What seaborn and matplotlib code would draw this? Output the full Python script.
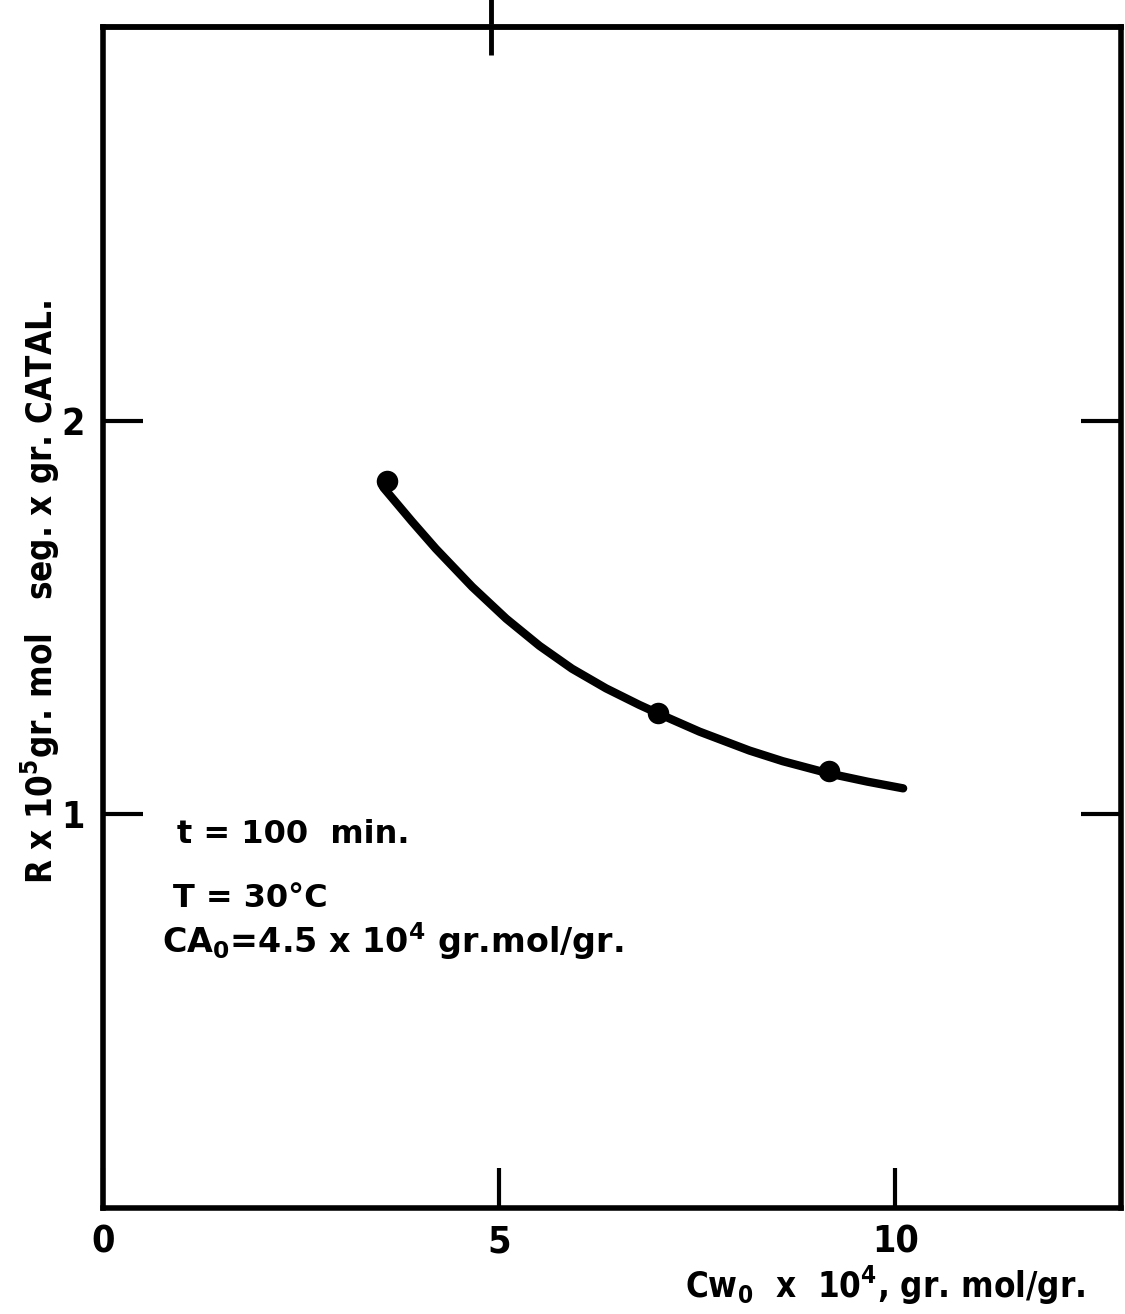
import matplotlib
matplotlib.use("Agg")
import matplotlib.pyplot as plt
import seaborn as sns
import pandas as pd

# measured points
cw0 = [3.58, 7.01, 9.16]
rate = [1.847, 1.257, 1.109]

# hand-drawn fitted curve
curve_x = [3.54, 3.90, 4.20, 4.66, 5.09, 5.51, 5.92, 6.35, 6.77, 7.01,
           7.53, 8.16, 8.58, 9.16, 9.65, 10.10]
curve_y = [1.830, 1.744, 1.675, 1.578, 1.497, 1.428, 1.370, 1.320, 1.278, 1.256,
           1.210, 1.162, 1.135, 1.104, 1.083, 1.066]

x_ticks = [0, 5, 10]
x_tick_labels = ["0", "5", "10"]
y_ticks = [1, 2]
y_tick_labels = ["1", "2"]

sns.set_theme(style="white")
plt.rcParams["font.family"] = ["DejaVu Sans"]
plt.rcParams["font.weight"] = "bold"
plt.rcParams["font.stretch"] = "condensed"
plt.rcParams["text.color"] = "black"
plt.rcParams["axes.labelcolor"] = "black"
plt.rcParams["xtick.color"] = "black"
plt.rcParams["ytick.color"] = "black"
plt.rcParams["mathtext.fontset"] = "custom"
plt.rcParams["mathtext.rm"] = "DejaVu Sans:bold"
plt.rcParams["mathtext.it"] = "DejaVu Sans:bold"
plt.rcParams["mathtext.bf"] = "DejaVu Sans:bold"

fig = plt.figure(figsize=(11.25, 13.14), dpi=100)
ax = fig.add_axes([103 / 1125, 1 - 1208 / 1314, (1121 - 103) / 1125, (1208 - 27) / 1314])

df_curve = pd.DataFrame({"x": curve_x, "y": curve_y})
df_pts = pd.DataFrame({"x": cw0, "y": rate})
sns.lineplot(data=df_curve, x="x", y="y", ax=ax, color="black", linewidth=6,
             solid_capstyle="round", solid_joinstyle="round", sort=False)
sns.scatterplot(data=df_pts, x="x", y="y", ax=ax, color="black", s=240,
                edgecolor="black", linewidth=0, zorder=5)

ax.set_xlim(0, 12.85)
ax.set_ylim(0, 3.0)
ax.set_xticks(x_ticks)
ax.set_xticklabels(x_tick_labels)
ax.set_yticks(y_ticks)
ax.set_yticklabels(y_tick_labels)

for s in ax.spines.values():
    s.set_linewidth(4)
    s.set_color("black")

ax.tick_params(axis="x", direction="in", length=29, width=3, pad=12,
               labelsize=27, bottom=True, top=False, colors="black")
ax.tick_params(axis="y", direction="in", length=29, width=3, pad=13,
               labelsize=27, left=True, right=True, labelright=False, colors="black")

sec = ax.secondary_xaxis("top")
sec.set_xticks([4.9])
sec.set_xticklabels([])
sec.tick_params(direction="inout", length=40, width=3.5, colors="black")
sec.spines["top"].set_linewidth(4)

ax.set_xlabel("")
ax.set_ylabel("")

fig.text(1085 / 1125, 1 - 1285 / 1314, r"Cw$_{\mathregular{0}}$  x  10$^{\mathregular{4}}$, gr. mol/gr.",
         ha="right", va="center", fontsize=25, fontweight="bold")
fig.text(40 / 1125, 1 - 592 / 1314,
         r"R x 10$^{\mathregular{5}}$gr. mol   seg. x gr. CATAL.",
         rotation=90, ha="center", va="center", fontsize=25, fontweight="bold")

fig.text(177 / 1125, 1 - 843 / 1314, "t = 100  min.", ha="left", va="baseline",
         fontsize=23, fontweight="bold", fontstretch="normal")
fig.text(173 / 1125, 1 - 907 / 1314, "T = 30°C", ha="left", va="baseline",
         fontsize=23, fontweight="bold", fontstretch="normal")
fig.text(162 / 1125, 1 - 953 / 1314,
         r"CA$_{\mathregular{0}}$=4.5 x 10$^{\mathregular{4}}$ gr.mol/gr.",
         ha="left", va="baseline", fontsize=24, fontweight="bold", fontstretch="normal")

fig.savefig("out.png", dpi=100, facecolor="white")
